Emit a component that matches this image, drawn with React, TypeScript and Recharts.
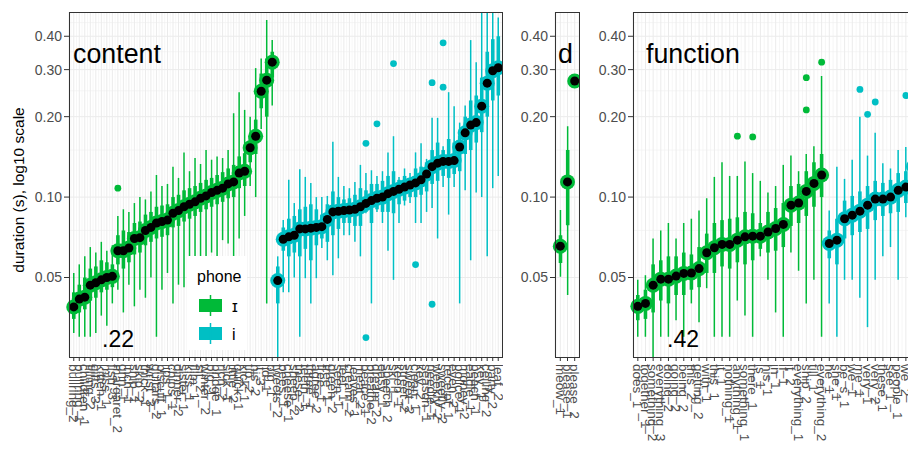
import { ComposedChart, Bar, Scatter, XAxis, YAxis, CartesianGrid, Cell } from "recharts"

const GREEN = "#00BA38"
const CYAN = "#00BFC4"
const FONT = "'Liberation Sans', Arial, Helvetica, sans-serif"

const Y_DOMAIN = [0.0252, 0.493]
const Y_TICKS = [0.05, 0.1, 0.2, 0.3, 0.4]
const Y_MINOR = [0.075, 0.15, 0.25, 0.35, 0.45]

// ---- content panel ----
const contentLabels = [
  "bullring_2", "bullring_1", "children_1", "filling_2", "gifts_3", "kitten_1", "miss_1", "fish_3",
  "margaret_2", "grin_1", "inch_1", "ship_1", "skip_2", "thick_1", "wrist_3", "guitars_2",
  "biscuit_1", "lips_1", "chips_1", "dinner_2", "sister_1", "kiss_1", "film_1", "sit_2",
  "winter_2", "pig_1", "bridge_1", "rich_2", "sick_1", "little_2", "quick_1", "kick_1",
  "tip_2", "his_2", "it_3", "lid_1", "big_1",
  "tweets_2", "bees_1", "cheese_1", "sheep_2", "these_2", "teeth_1", "three_1", "agree_2",
  "free_1", "tree_1", "green_2", "seen_1", "feet_1", "cream_2", "leaves_1", "meat_2",
  "peace_1", "breathe_2", "dream_2", "easy_1", "speech_2", "ski_1", "keep_1", "street_2",
  "sweet_2", "clean_1", "key_2", "season_1", "needle_1", "weekly_2", "sweetly_2", "receipt_1",
  "even_2", "police_1", "money_2", "eagle_1", "beach_1", "key_1", "ceiling_2", "party_2", "leaf_2",
]
const contentPhone = [...Array(37).fill("ɪ"), ...Array(41).fill("i")]
const contentMed = [
  0.0388, 0.0415, 0.0422, 0.0468, 0.0478, 0.049, 0.050, 0.0505, 0.063, 0.063, 0.0645, 0.070, 0.0705,
  0.075, 0.077, 0.080, 0.081, 0.082, 0.087, 0.089, 0.092, 0.094, 0.096, 0.099, 0.101, 0.104, 0.106,
  0.108, 0.112, 0.114, 0.123, 0.125, 0.153, 0.169, 0.249, 0.274, 0.32,
  0.0487, 0.0695, 0.071, 0.072, 0.076, 0.076, 0.0765, 0.077, 0.0775, 0.0825, 0.088, 0.0885, 0.089,
  0.0895, 0.090, 0.092, 0.0947, 0.097, 0.099, 0.100, 0.103, 0.105, 0.107, 0.109, 0.111, 0.113,
  0.116, 0.122, 0.130, 0.134, 0.136, 0.136, 0.137, 0.154, 0.174, 0.186, 0.190, 0.219, 0.267, 0.297, 0.305,
]
const contentLo = [
  0.031, 0.030, 0.030, 0.030, 0.031, 0.036, 0.033, 0.040, 0.045, 0.037, 0.047, 0.039, 0.045,
  0.042, 0.050, 0.030, 0.045, 0.052, 0.040, 0.047, 0.046, 0.045, 0.042, 0.048, 0.050, 0.062, 0.058,
  0.069, 0.067, 0.049, 0.070, 0.085, 0.110, 0.100, 0.180, 0.040, 0.220,
  0.024, 0.044, 0.044, 0.050, 0.030, 0.0497, 0.040, 0.0497, 0.0645, 0.058, 0.051, 0.059, 0.072,
  0.072, 0.068, 0.060, 0.087, 0.040, 0.088, 0.080, 0.063, 0.049, 0.080, 0.093, 0.095, 0.080,
  0.080, 0.088, 0.091, 0.070, 0.109, 0.086, 0.109, 0.040, 0.106, 0.058, 0.104, 0.100, 0.060, 0.108, 0.120,
]
const contentQ1 = [
  0.035, 0.037, 0.038, 0.041, 0.042, 0.044, 0.045, 0.046, 0.056, 0.054, 0.057, 0.061, 0.062,
  0.066, 0.068, 0.070, 0.071, 0.072, 0.077, 0.078, 0.081, 0.083, 0.085, 0.088, 0.090, 0.092, 0.094,
  0.096, 0.099, 0.100, 0.108, 0.110, 0.135, 0.145, 0.215, 0.200, 0.280,
  0.040, 0.063, 0.060, 0.062, 0.060, 0.064, 0.058, 0.066, 0.070, 0.068, 0.072, 0.076, 0.080,
  0.080, 0.078, 0.078, 0.088, 0.080, 0.090, 0.088, 0.088, 0.087, 0.094, 0.097, 0.100, 0.100,
  0.102, 0.105, 0.112, 0.115, 0.120, 0.118, 0.122, 0.125, 0.145, 0.150, 0.160, 0.175, 0.200, 0.230, 0.240,
]
const contentQ3 = [
  0.044, 0.047, 0.050, 0.054, 0.055, 0.058, 0.057, 0.056, 0.072, 0.075, 0.074, 0.080, 0.081,
  0.086, 0.088, 0.092, 0.093, 0.094, 0.100, 0.102, 0.106, 0.108, 0.110, 0.113, 0.116, 0.118, 0.121,
  0.124, 0.128, 0.132, 0.142, 0.146, 0.170, 0.195, 0.290, 0.330, 0.350,
  0.055, 0.077, 0.083, 0.085, 0.090, 0.092, 0.094, 0.090, 0.086, 0.094, 0.105, 0.100, 0.098,
  0.099, 0.102, 0.108, 0.106, 0.112, 0.112, 0.115, 0.120, 0.125, 0.116, 0.120, 0.118, 0.128,
  0.130, 0.135, 0.150, 0.160, 0.150, 0.165, 0.160, 0.170, 0.200, 0.230, 0.240, 0.280, 0.350, 0.390, 0.400,
]
const contentHi = [
  0.052, 0.056, 0.060, 0.065, 0.062, 0.068, 0.063, 0.066, 0.085, 0.090, 0.088, 0.095, 0.100,
  0.098, 0.105, 0.121, 0.110, 0.112, 0.130, 0.118, 0.147, 0.125, 0.140, 0.133, 0.150, 0.138, 0.142,
  0.140, 0.150, 0.206, 0.247, 0.212, 0.200, 0.304, 0.330, 0.460, 0.387,
  0.060, 0.082, 0.116, 0.095, 0.127, 0.119, 0.113, 0.100, 0.100, 0.101, 0.161, 0.119, 0.110,
  0.108, 0.114, 0.132, 0.123, 0.126, 0.120, 0.125, 0.147, 0.169, 0.119, 0.128, 0.123, 0.147,
  0.159, 0.139, 0.198, 0.198, 0.155, 0.247, 0.219, 0.190, 0.220, 0.387, 0.320, 0.500, 0.500, 0.500, 0.470,
]
const contentOutliers: [string, number][] = [
  ["margaret_2", 0.108],
  ["peace_1", 0.159], ["peace_1", 0.0298],
  ["dream_2", 0.188],
  ["ski_1", 0.316],
  ["clean_1", 0.0559],
  ["needle_1", 0.268], ["needle_1", 0.0397],
  ["sweetly_2", 0.378], ["sweetly_2", 0.258],
]

// ---- d panel ----
const dLabels = ["meow_1", "please_1", "please_2"]
const dPhone = ["ɪ", "ɪ", "ɪ"]
const dMed = [0.0655, 0.114, 0.272]
const dLo = [0.0503, 0.043, 0.272]
const dQ1 = [0.0566, 0.0785, 0.272]
const dQ3 = [0.072, 0.150, 0.272]
const dHi = [0.0894, 0.184, 0.272]

// ---- function panel ----
const functionLabels = [
  "does_1", "together_1", "something_2", "everything_3", "doing_2", "going_2", "being_2", "this_2",
  "getting_2", "with_1", "this_1", "it_1", "nothing_1", "anything_1", "something_1", "there_1",
  "is_1", "his_1", "in_1", "if_1", "it_2", "everything_1", "ship_2", "till_1", "everything_2",
  "he_1", "she_1", "be_s_1", "we_1", "me_1", "very_1", "very_2", "these_1", "see_1", "people_1",
  "we_2", "three_2", "be_2", "free_2", "tea_1", "key_3",
]
const functionPhone = [...Array(25).fill("ɪ"), ...Array(16).fill("i")]
const functionMed = [
  0.039, 0.040, 0.0468, 0.0493, 0.0493, 0.0506, 0.0518, 0.052, 0.054, 0.0619, 0.0646, 0.0665, 0.0665,
  0.069, 0.071, 0.0714, 0.0714, 0.074, 0.0763, 0.079, 0.0933, 0.095, 0.105, 0.1125, 0.121,
  0.067, 0.069, 0.083, 0.0856, 0.0886, 0.0933, 0.0983, 0.0983, 0.100, 0.106, 0.109, 0.130, 0.135,
  0.140, 0.160, 0.180,
]
const functionLo = [
  0.030, 0.030, 0.024, 0.030, 0.030, 0.0346, 0.030, 0.040, 0.034, 0.0456, 0.030, 0.030, 0.030,
  0.041, 0.036, 0.030, 0.060, 0.049, 0.037, 0.030, 0.062, 0.053, 0.040, 0.049, 0.030,
  0.040, 0.030, 0.049, 0.049, 0.042, 0.0326, 0.049, 0.060, 0.065, 0.049, 0.084, 0.070, 0.080,
  0.090, 0.100, 0.110,
]
const functionQ1 = [
  0.0346, 0.035, 0.037, 0.041, 0.040, 0.043, 0.043, 0.045, 0.046, 0.052, 0.052, 0.055, 0.054,
  0.057, 0.056, 0.058, 0.064, 0.062, 0.063, 0.065, 0.078, 0.080, 0.085, 0.092, 0.100,
  0.059, 0.056, 0.070, 0.072, 0.074, 0.076, 0.082, 0.085, 0.087, 0.088, 0.095, 0.110, 0.115,
  0.120, 0.135, 0.150,
]
const functionQ3 = [
  0.043, 0.045, 0.056, 0.058, 0.060, 0.060, 0.062, 0.061, 0.065, 0.073, 0.080, 0.082, 0.083,
  0.084, 0.088, 0.087, 0.080, 0.088, 0.091, 0.095, 0.110, 0.112, 0.125, 0.135, 0.145,
  0.075, 0.083, 0.097, 0.101, 0.105, 0.110, 0.115, 0.113, 0.116, 0.123, 0.125, 0.150, 0.160,
  0.165, 0.190, 0.220,
]
const functionHi = [
  0.049, 0.051, 0.070, 0.075, 0.080, 0.070, 0.080, 0.083, 0.089, 0.099, 0.119, 0.135, 0.120,
  0.120, 0.136, 0.123, 0.115, 0.104, 0.110, 0.132, 0.143, 0.125, 0.145, 0.155, 0.284,
  0.089, 0.130, 0.117, 0.138, 0.200, 0.143, 0.174, 0.134, 0.128, 0.150, 0.154, 0.200, 0.220,
  0.250, 0.300, 0.350,
]
const functionOutliers: [string, number][] = [
  ["anything_1", 0.169],
  ["there_1", 0.168],
  ["ship_2", 0.28], ["ship_2", 0.212],
  ["everything_2", 0.32],
  ["me_1", 0.253],
  ["very_1", 0.204],
  ["very_2", 0.227],
  ["we_2", 0.24],
]

type Row = {
  name: string
  phone: string
  whisker: [number, number]
  box: [number, number]
  med: number
  out1: number | null
  out2: number | null
}

function buildRows(
  labels: string[], phone: string[], lo: number[], q1: number[], med: number[],
  q3: number[], hi: number[], outliers: [string, number][],
): Row[] {
  return labels.map((name, i) => {
    const outs = outliers.filter((o) => o[0] === name).map((o) => o[1])
    return {
      name,
      phone: phone[i],
      whisker: [lo[i], hi[i]],
      box: [q1[i], q3[i]],
      med: med[i],
      out1: outs[0] ?? null,
      out2: outs[1] ?? null,
    }
  })
}

const contentRows = buildRows(contentLabels, contentPhone, contentLo, contentQ1, contentMed, contentQ3, contentHi, contentOutliers)
const dRows = buildRows(dLabels, dPhone, dLo, dQ1, dMed, dQ3, dHi, [])
const functionRows = buildRows(functionLabels, functionPhone, functionLo, functionQ1, functionMed, functionQ3, functionHi, functionOutliers)

const colorOf = (phone: string) => (phone === "i" ? CYAN : GREEN)

const PLOT_TOP = 12
const PLOT_H = 345
const CHART_H = 450
const Y_AXIS_W = 40

function XTick({ x, y, payload }: any) {
  return (
    <g transform={`translate(${x},${y})`}>
      <text transform="rotate(90)" x={0} y={0} dy="0.35em" textAnchor="start"
        fill="#4D4D4D" fontSize={13.5} fontFamily={FONT}>
        {payload.value}
      </text>
    </g>
  )
}

const outlierShape = (key: "out1" | "out2") => (p: any) => {
  const v = p.payload?.[key]
  if (v == null || !Number.isFinite(p.cy) || !Number.isFinite(p.cx)) return <g />
  return <circle cx={p.cx} cy={p.cy} r={3.4} fill={colorOf(p.payload.phone)} />
}

const haloShape = (p: any) => {
  if (!Number.isFinite(p.cy)) return <g />
  return <circle cx={p.cx} cy={p.cy} r={7.5} fill={colorOf(p.payload.phone)} />
}

const dotShape = (p: any) => {
  if (!Number.isFinite(p.cy)) return <g />
  return <circle cx={p.cx} cy={p.cy} r={4.5} fill="#000" />
}

function Panel({ rows, left, plotWidth, pad }: { rows: Row[]; left: number; plotWidth: number; pad: number }) {
  const n = rows.length
  const minorV = ({ offset }: any) => {
    const s = (offset.width - 2 * pad) / n
    const xs: number[] = []
    for (let i = 0; i <= n; i++) xs.push(offset.left + pad + i * s)
    return xs
  }
  return (
    <div style={{ position: "absolute", left, top: 0 }}>
      <ComposedChart
        width={Y_AXIS_W + plotWidth}
        height={CHART_H}
        data={rows}
        margin={{ top: PLOT_TOP, right: 0, bottom: 0, left: 0 }}
      >
        <CartesianGrid xAxisId="main" stroke="#F0F0F0" strokeWidth={0.6}
          horizontalValues={Y_MINOR} verticalCoordinatesGenerator={minorV} />
        <CartesianGrid xAxisId="main" stroke="#EBEBEB" strokeWidth={1} horizontalValues={Y_TICKS} />
        <XAxis xAxisId="main" dataKey="name" type="category" interval={0} height={CHART_H - PLOT_TOP - PLOT_H}
          padding={{ left: pad, right: pad }} axisLine={false} tickSize={4} tickMargin={3}
          tickLine={{ stroke: "#333333" }} tick={<XTick />} />
        <XAxis xAxisId="box" dataKey="name" type="category" hide height={0} padding={{ left: pad, right: pad }} />
        <YAxis scale="log" domain={Y_DOMAIN} allowDataOverflow ticks={Y_TICKS} width={Y_AXIS_W}
          axisLine={false} tickSize={5} tickMargin={2} tickLine={{ stroke: "#333333" }}
          tickFormatter={(v: number) => v.toFixed(2)}
          tick={{ fill: "#4D4D4D", fontSize: 14, fontFamily: FONT }} />
        <Bar xAxisId="main" dataKey="whisker" barSize={1.5} isAnimationActive={false}>
          {rows.map((r) => <Cell key={r.name} fill={colorOf(r.phone)} />)}
        </Bar>
        <Bar xAxisId="box" dataKey="box" barSize={3.6} isAnimationActive={false}>
          {rows.map((r) => <Cell key={r.name} fill={colorOf(r.phone)} />)}
        </Bar>
        <Scatter xAxisId="main" dataKey="out1" shape={outlierShape("out1")} isAnimationActive={false} />
        <Scatter xAxisId="main" dataKey="out2" shape={outlierShape("out2")} isAnimationActive={false} />
        <Scatter xAxisId="main" dataKey="med" shape={haloShape} isAnimationActive={false} />
        <Scatter xAxisId="main" dataKey="med" shape={dotShape} isAnimationActive={false} />
      </ComposedChart>
    </div>
  )
}

export default function App() {
  const content = { left: 29, plotWidth: 434, pad: 2 }
  const d = { left: 515, plotWidth: 25, pad: 1.7 }
  const fn = { left: 593, plotWidth: 316, pad: 1 }
  return (
    <div style={{ position: "fixed", left: 0, top: 0, width: 908, height: 450, overflow: "hidden", background: "#fff", fontFamily: FONT }}>
      <Panel rows={contentRows} {...content} />
      <Panel rows={dRows} {...d} />
      <Panel rows={functionRows} {...fn} />
      <svg width={908} height={450} style={{ position: "absolute", left: 0, top: 0, pointerEvents: "none" }} fontFamily={FONT}>
        {[content, d, fn].map((p, i) => (
          <rect key={i} x={p.left + Y_AXIS_W + 0.5} y={PLOT_TOP + 0.5} width={p.plotWidth - 1} height={PLOT_H}
            fill="none" stroke="#333333" strokeWidth={1} />
        ))}
        <text transform="translate(24,190) rotate(-90)" textAnchor="middle" fontSize={15.5} fill="#000">
          duration (s), log10 scale
        </text>
        <text x={73} y={63} fontSize={26.8} fill="#000">content</text>
        <text x={558} y={63} fontSize={26.8} fill="#000">d</text>
        <text x={646} y={63} fontSize={26.8} fill="#000">function</text>
        <text x={102} y={347} fontSize={23} fill="#000">.22</text>
        <text x={667} y={347} fontSize={23} fill="#000">.42</text>
        <rect x={187} y={256} width={60} height={94} fill="#fff" />
        <text x={197} y={282} fontSize={16} fill="#000">phone</text>
        <rect x={199} y={299} width={23} height={13} fill={GREEN} />
        <line x1={210.5} x2={210.5} y1={295} y2={316} stroke={GREEN} strokeWidth={1.5} />
        <text x={232} y={312} fontSize={16} fill="#000">ɪ</text>
        <rect x={199} y={327} width={23} height={13} fill={CYAN} />
        <line x1={210.5} x2={210.5} y1={323} y2={344} stroke={CYAN} strokeWidth={1.5} />
        <text x={232} y={340} fontSize={16} fill="#000">i</text>
      </svg>
    </div>
  )
}
